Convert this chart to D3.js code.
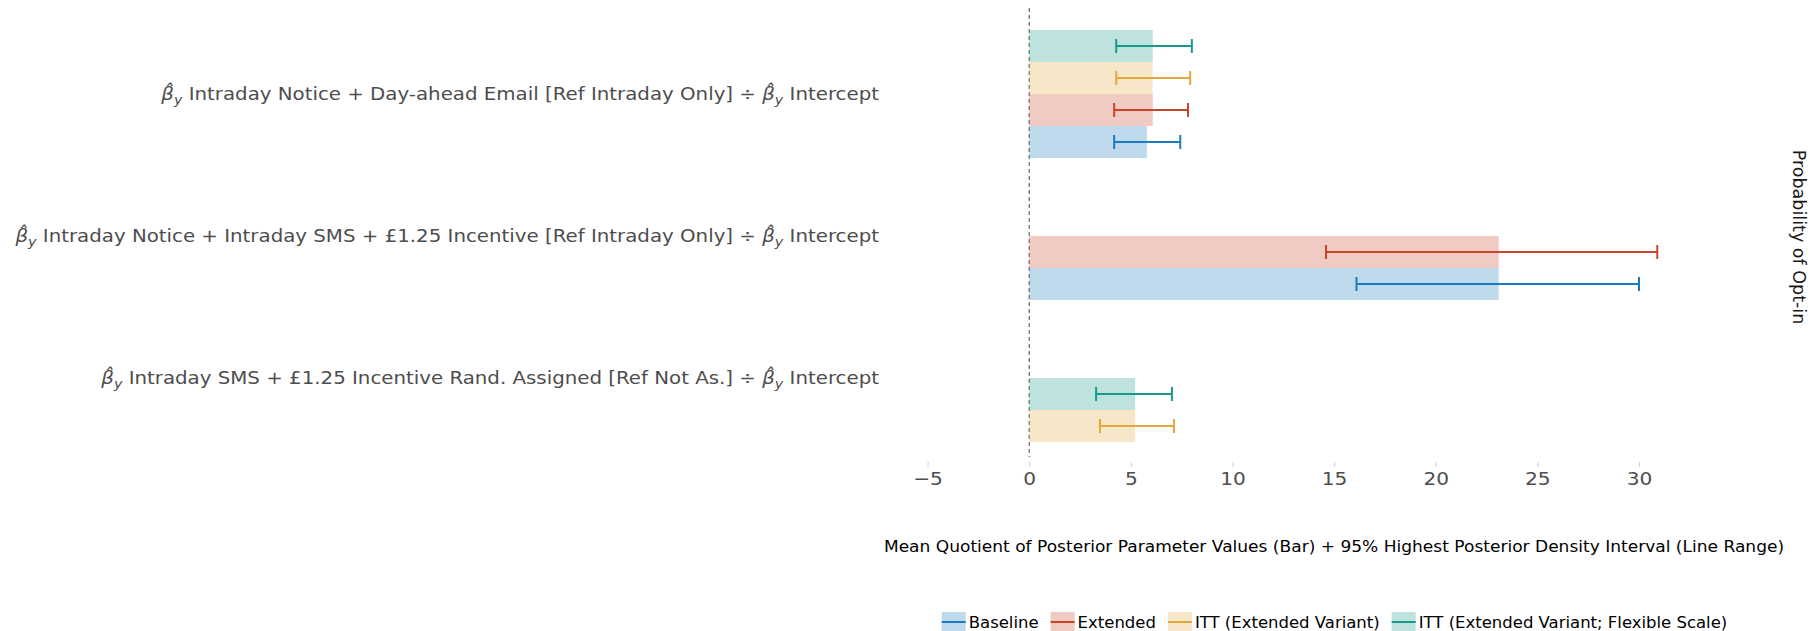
<!DOCTYPE html>
<html>
<head>
<meta charset="utf-8">
<script src="https://cdn.jsdelivr.net/npm/d3@7/dist/d3.min.js"></script>
<style>
  html, body { margin: 0; padding: 0; background: #fff; }
  svg { display: block; }
  text { font-family: "DejaVu Sans", sans-serif; }
</style>
</head>
<body>
<svg id="chart" width="1812" height="631"></svg>
<script>
// Contrasts (middle part of each label; the β̂y prefix and "÷ β̂y Intercept" are added when drawn)
const categories = [
  "Intraday Notice + Day-ahead Email [Ref Intraday Only]",
  "Intraday Notice + Intraday SMS + £1.25 Incentive [Ref Intraday Only]",
  "Intraday SMS + £1.25 Incentive Rand. Assigned [Ref Not As.]"
];

const seriesNames = [
  "Baseline",
  "Extended",
  "ITT (Extended Variant)",
  "ITT (Extended Variant; Flexible Scale)"
];

// Mean quotient and 95% HDI bounds per contrast (null = model not fitted for that contrast)
const baselineMean = [5.79, 23.1, null];
const baselineLow  = [4.18, 16.1, null];
const baselineHigh = [7.43, 30.0, null];

const extendedMean = [6.08, 23.1, null];
const extendedLow  = [4.18, 14.6, null];
const extendedHigh = [7.81, 30.9, null];

const ittMean = [6.07, null, 5.21];
const ittLow  = [4.28, null, 3.48];
const ittHigh = [7.92, null, 7.12];

const ittFlexMean = [6.08, null, 5.21];
const ittFlexLow  = [4.28, null, 3.29];
const ittFlexHigh = [8.00, null, 7.02];

const xTicks = [-5, 0, 5, 10, 15, 20, 25, 30];

const stripLabel = "Probability of Opt-in";
const xTitle = "Mean Quotient of Posterior Parameter Values (Bar) + 95% Highest Posterior Density Interval (Line Range)";

const lineColors = ["#1b7bc0", "#c8442c", "#e2a93a", "#149b8c"];

// horizontal widening applied to horizontal text
const SX = 1.1;

// ---- assemble rows ----
const means = [baselineMean, extendedMean, ittMean, ittFlexMean];
const lows  = [baselineLow, extendedLow, ittLow, ittFlexLow];
const highs = [baselineHigh, extendedHigh, ittHigh, ittFlexHigh];

const rows = [];
categories.forEach((cat, ci) => {
  let slot = 0;
  seriesNames.forEach((s, si) => {
    if (means[si][ci] == null) return;
    rows.push({ cat, ci, si, slot: slot++, mean: means[si][ci], low: lows[si][ci], high: highs[si][ci] });
  });
});

// ---- layout ----
const svg = d3.select("#chart");
const slotH = 32;          // height of one dodged bar
const nSlots = seriesNames.length;

const x = d3.scaleLinear().domain([-5, 30]).range([927.6, 1639]);
const y = d3.scalePoint().domain(categories).range([94, 378]);

// bars are dodged upward from the bottom of each category band
const barTop = d => y(d.cat) + (nSlots / 2) * slotH - (d.slot + 1) * slotH;

// zero reference line
svg.append("line")
  .attr("x1", x(0)).attr("x2", x(0))
  .attr("y1", 8).attr("y2", 457)
  .attr("stroke", "#666").attr("stroke-width", 1.2)
  .attr("stroke-dasharray", "4,3");

// bars
svg.append("g").selectAll("rect").data(rows).join("rect")
  .attr("x", d => x(Math.min(0, d.mean)))
  .attr("width", d => Math.abs(x(d.mean) - x(0)))
  .attr("y", barTop)
  .attr("height", slotH)
  .attr("fill", d => lineColors[d.si])
  .attr("fill-opacity", 0.28);

// interval line ranges with end caps
const eb = svg.append("g").selectAll("g").data(rows).join("g")
  .attr("stroke", d => lineColors[d.si])
  .attr("stroke-width", 2)
  .attr("fill", "none");
eb.append("line")
  .attr("x1", d => x(d.low)).attr("x2", d => x(d.high))
  .attr("y1", d => barTop(d) + slotH / 2).attr("y2", d => barTop(d) + slotH / 2);
eb.append("line")
  .attr("x1", d => x(d.low)).attr("x2", d => x(d.low))
  .attr("y1", d => barTop(d) + slotH / 2 - 7).attr("y2", d => barTop(d) + slotH / 2 + 7);
eb.append("line")
  .attr("x1", d => x(d.high)).attr("x2", d => x(d.high))
  .attr("y1", d => barTop(d) + slotH / 2 - 7).attr("y2", d => barTop(d) + slotH / 2 + 7);

// x axis (no domain line, faint ticks)
const xAxis = svg.append("g")
  .attr("transform", "translate(0,462)")
  .call(d3.axisBottom(x).tickValues(xTicks).tickSize(5).tickPadding(5));
xAxis.select(".domain").remove();
xAxis.selectAll(".tick line").attr("stroke", "#d0d0d0");
xAxis.selectAll(".tick text")
  .attr("font-family", "DejaVu Sans, sans-serif")
  .attr("font-size", 18.3)
  .attr("transform", `scale(${SX},1)`)
  .attr("fill", "#4d4d4d");

// category labels: β̂y <contrast> ÷ β̂y Intercept
const lab = svg.append("g").selectAll("text").data(categories).join("text")
  .attr("transform", d => `translate(879,${y(d) + 6}) scale(${SX},1)`)
  .attr("text-anchor", "end")
  .attr("font-size", 18)
  .attr("fill", "#4d4d4d");
function beta(sel) {
  sel.append("tspan").attr("font-style", "italic").text("β\u0302");
  sel.append("tspan").attr("font-style", "italic").attr("font-size", 13).attr("dy", 4).text("y");
}
lab.each(function (d) {
  const t = d3.select(this);
  beta(t);
  t.append("tspan").attr("dy", -4).text(" " + d + " ÷ ");
  beta(t);
  t.append("tspan").attr("dy", -4).text(" Intercept");
});

// facet strip label on the right
svg.append("text")
  .attr("transform", "translate(1793,237) rotate(90)")
  .attr("text-anchor", "middle")
  .attr("font-size", 17.5)
  .attr("fill", "#1a1a1a")
  .text(stripLabel);

// x axis title
svg.append("text")
  .attr("transform", `translate(1334,552) scale(${SX},1)`)
  .attr("text-anchor", "middle")
  .attr("font-size", 15.5)
  .attr("fill", "#000")
  .text(xTitle);

// legend
const legend = svg.append("g").attr("transform", "translate(0,622)");
const keyW = 24, keyH = 20, keyGap = 3, itemGap = 12;
const items = legend.selectAll("g").data(seriesNames).join("g");
items.append("rect")
  .attr("width", keyW).attr("height", keyH)
  .attr("y", -keyH / 2)
  .attr("fill", (d, i) => lineColors[i]).attr("fill-opacity", 0.28);
items.append("line")
  .attr("x1", 0).attr("x2", keyW)
  .attr("stroke", (d, i) => lineColors[i]).attr("stroke-width", 2);
items.append("text")
  .attr("transform", `translate(${keyW + keyGap},5.5) scale(${SX},1)`)
  .attr("font-size", 15)
  .attr("fill", "#000")
  .text(d => d);
const widths = [];
items.each(function () {
  widths.push(keyW + keyGap + SX * d3.select(this).select("text").node().getComputedTextLength());
});
const total = d3.sum(widths) + itemGap * (widths.length - 1);
let cursor = 1334.5 - total / 2;
items.attr("transform", (d, i) => {
  const tx = cursor;
  cursor += widths[i] + itemGap;
  return `translate(${tx},0)`;
});
</script>
</body>
</html>
